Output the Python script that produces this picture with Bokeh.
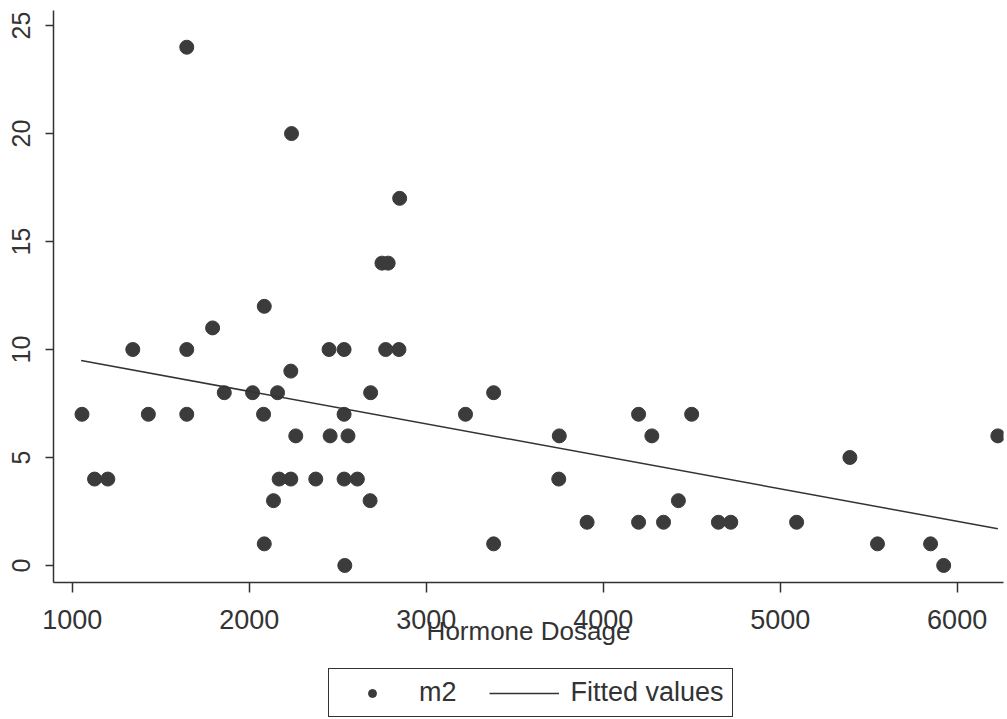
from bokeh.plotting import figure
from bokeh.layouts import column
from bokeh.models import Range1d, FixedTicker, Legend, LegendItem
from bokeh.embed import file_html
from bokeh.resources import INLINE

# Data
dosage = [1055, 1126, 1201, 1342, 1430, 1647, 1647, 1647, 1793, 1859,
          2019, 2081, 2085, 2085, 2137, 2160, 2169, 2235, 2235, 2239,
          2263, 2376, 2451, 2457, 2536, 2536, 2536, 2540, 2558, 2611,
          2683, 2686, 2750, 2785, 2771, 2846, 2850, 3222, 3381, 3381,
          3749, 3752, 3909, 4200, 4200, 4275, 4341, 4425, 4500, 4651,
          4721, 5093, 5394, 5550, 5850, 5924, 6230]
m2 = [7, 4, 4, 10, 7, 24, 10, 7, 11, 8,
      8, 7, 12, 1, 3, 8, 4, 4, 9, 20,
      6, 4, 10, 6, 10, 7, 4, 0, 6, 4,
      3, 8, 14, 14, 10, 10, 17, 7, 8, 1,
      4, 6, 2, 7, 2, 6, 2, 3, 7, 2,
      2, 2, 5, 1, 1, 0, 6]
fit_x = [1050, 6230]
fit_y = [9.49, 1.70]
x_ticks = [1000, 2000, 3000, 4000, 5000, 6000]
y_ticks = [0, 5, 10, 15, 20, 25]

FONT = "Liberation Sans"
INK = "#333333"
DOT = "#3b3b3b"

# ---- main plot ----
p = figure(width=1007, height=660, output_backend="svg", toolbar_location=None,
           x_range=Range1d(894, 6262), y_range=Range1d(-0.79, 25.7),
           min_border_left=53, min_border_right=4, min_border_top=10,
           min_border_bottom=78)
p.outline_line_color = None
p.grid.visible = False
p.background_fill_color = "white"
p.border_fill_color = "white"

p.scatter(dosage, m2, size=14, fill_color=DOT, line_color=DOT)
p.line(fit_x, fit_y, line_color=INK, line_width=1.5)

for ax in (p.xaxis[0], p.yaxis[0]):
    ax.axis_line_color = INK
    ax.axis_line_width = 1.5
    ax.major_tick_line_color = INK
    ax.major_tick_line_width = 1.5
    ax.major_tick_in = 0
    ax.minor_tick_line_color = None
    ax.major_label_text_font = FONT
    ax.major_label_text_color = INK
    ax.major_label_text_font_style = "normal"

p.xaxis.ticker = FixedTicker(ticks=x_ticks)
p.xaxis.major_tick_out = 10
p.xaxis.major_label_text_font_size = "27px"
p.xaxis.major_label_standoff = 17
p.xaxis.axis_label = "Hormone Dosage"
p.xaxis.axis_label_text_font = FONT
p.xaxis.axis_label_text_font_size = "26px"
p.xaxis.axis_label_text_font_style = "normal"
p.xaxis.axis_label_text_color = INK
p.xaxis.axis_label_standoff = -16

p.yaxis.ticker = FixedTicker(ticks=y_ticks)
p.yaxis.major_tick_out = 8
p.yaxis.major_label_text_font_size = "25px"
p.yaxis.major_label_orientation = "vertical"
p.yaxis.major_label_standoff = 15

# ---- legend strip (same series, drawn outside its visible range) ----
q = figure(width=1007, height=59, output_backend="svg", toolbar_location=None,
           x_range=p.x_range, y_range=Range1d(-3, -2),
           x_axis_type=None, y_axis_type=None,
           min_border_left=0, min_border_right=0, min_border_top=0,
           min_border_bottom=0)
q.outline_line_color = None
q.grid.visible = False
q.background_fill_color = "white"
q.border_fill_color = "white"
pts_leg = q.scatter(dosage, m2, size=14, fill_color=DOT, line_color=DOT)
fit_leg = q.line(fit_x, fit_y, line_color=INK, line_width=1.5)

legend = Legend(items=[LegendItem(label="m2", renderers=[pts_leg]),
                       LegendItem(label="Fitted values", renderers=[fit_leg])],
                orientation="horizontal", location=(275, 2), margin=0,
                padding=8, spacing=32, glyph_width=70, label_standoff=12,
                border_line_color=INK, border_line_width=1.5,
                border_line_alpha=1.0,
                label_text_font=FONT, label_text_font_size="27px",
                label_text_color=INK)
q.add_layout(legend)

page = column(p, q, spacing=0)
open("out.html", "w").write(file_html(page, INLINE))
